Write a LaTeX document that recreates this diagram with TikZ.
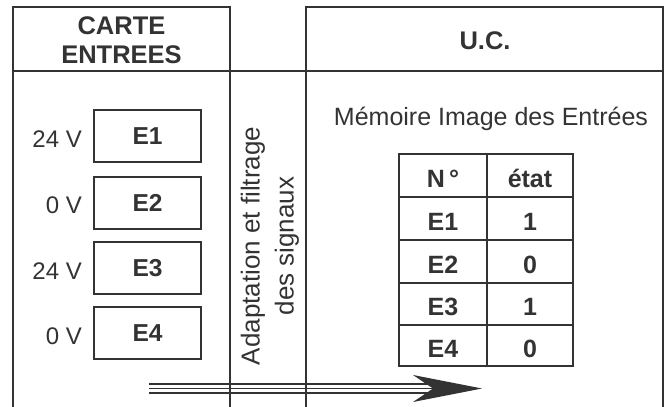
\documentclass[tikz,border=0pt]{standalone}
\usepackage{fontspec}
\setmainfont{Liberation Sans}
\definecolor{ink}{HTML}{333333}
\begin{document}
\begin{tikzpicture}[x=1pt,y=-1pt,
  frame/.style={draw=ink, line width=2pt, line join=miter},
  ebox/.style={draw=ink, line width=2pt, minimum width=107pt, minimum height=52pt, inner sep=0pt, text=ink, font=\fontsize{24.5}{29}\bfseries\selectfont},
  vlabel/.style={anchor=base east, inner sep=0pt, text=ink, font=\fontsize{24}{28}\selectfont},
  head/.style={font=\fontsize{25.5}{30}\bfseries\selectfont, align=center, text=ink},
  cell/.style={anchor=base, inner sep=0pt, text=ink, font=\fontsize{25}{29}\bfseries\selectfont},
  arrline/.style={draw=ink, line width=1.7pt}
]
\useasboundingbox (0,0) rectangle (670,407);

% table (memory image)
\draw[frame] (399,154) rectangle (573,366);
\foreach \yy in {197,240,283,325} \draw[frame] (399,\yy) -- (573,\yy);
\draw[frame] (487,154) -- (487,366);

\node[cell] (hn) at (443,187) {N\,°};
\node[cell] (he) at (530,187) {état};
\node[cell] (r1a) at (443,230) {E1};
\node[cell] (r1b) at (530,230) {1};
\node[cell] (r2a) at (443,273) {E2};
\node[cell] (r2b) at (530,273) {0};
\node[cell] (r3a) at (443,315) {E3};
\node[cell] (r3b) at (530,315) {1};
\node[cell] (r4a) at (443,357) {E4};
\node[cell] (r4b) at (530,357) {0};

% arrow
\coordinate (as) at (149,388.5);
\coordinate (ae) at (433,388.5);
\coordinate (tip) at (482,388.5);
\draw[arrline] ([yshift=4.4pt]as) -- ([yshift=4.4pt]ae);
\draw[arrline] (as) -- (ae);
\draw[arrline] ([yshift=-4.4pt]as) -- ([yshift=-4.4pt]ae);
\fill[ink] (tip) -- (413,375) -- (433,388.5) -- (413,402) -- cycle;

% frames
\draw[frame] (13,407) -- (13,7) -- (230,7) -- (230,407);
\draw[frame] (306,407) -- (306,7) -- (663,7) -- (663,407);
\draw[frame] (13,71) -- (663,71);

% headers
\node[head] (carte) at (121.5,40) {CARTE\\[-1pt]ENTREES};
\node[head] (uc) at (485,41) {U.C.};

% input boxes
\node[ebox] (e1) at (147.5,136) {E1};
\node[ebox] (e2) at (147.5,202.5) {E2};
\node[ebox] (e3) at (147.5,268) {E3};
\node[ebox] (e4) at (147.5,333) {E4};

\node[vlabel] (v1) at (82,147) {24 V};
\node[vlabel] (v2) at (82,213.5) {0 V};
\node[vlabel] (v3) at (82,279) {24 V};
\node[vlabel] (v4) at (82,344) {0 V};

% adaptation text
\node[rotate=90, align=center, text=ink, inner sep=0pt, font=\fontsize{26}{34}\selectfont] (adapt) at (270,246) {Adaptation et filtrage\\des signaux};

% memory title
\node[anchor=base, inner sep=0pt, text=ink, font=\fontsize{25}{30}\selectfont] (mem) at (491,125) {Mémoire Image des Entrées};
\end{tikzpicture}
\end{document}
